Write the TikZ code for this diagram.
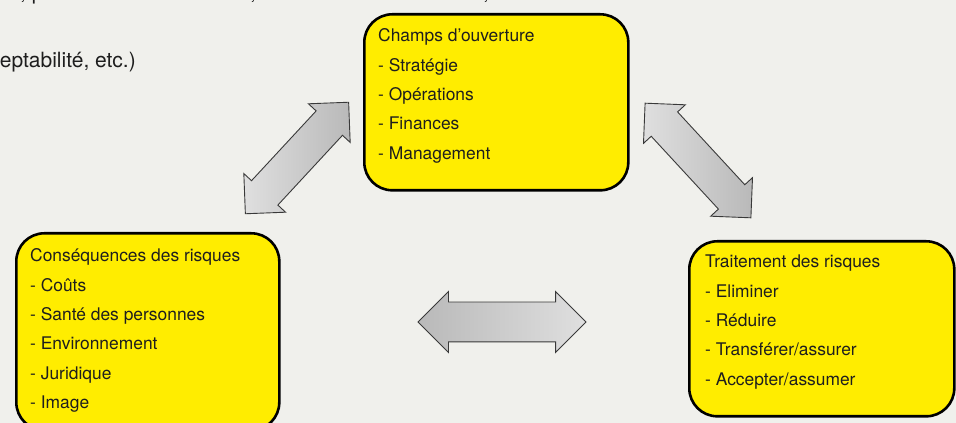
\documentclass[tikz,border=0pt]{standalone}
\usepackage{fontspec}
\setmainfont{TeX Gyre Heros}
\usetikzlibrary{positioning,shapes.arrows}
\definecolor{bgcol}{RGB}{240,240,236}
\definecolor{boxyellow}{RGB}{255,237,0}
\definecolor{txtcol}{RGB}{30,30,30}

\begin{document}
\begin{tikzpicture}[x=1pt,y=1pt,node distance=29.3pt,on grid,
  riskbox/.style={draw,line width=2.6pt,fill=boxyellow,rounded corners=28pt,anchor=north west,inner sep=0pt},
  itemline/.style={anchor=base west,inner sep=0pt,text=txtcol,font=\fontsize{17.4}{20}\selectfont},
  nextline/.style={below=of #1.base west,anchor=base west},
  dblarrow/.style={double arrow,draw=gray!45!black,line width=0.9pt,inner xsep=0pt,
    double arrow head extend=10.5pt,left color=gray!25,right color=gray!55}]
\useasboundingbox (0,0) rectangle (956,423);
\fill[bgcol] (0,0) rectangle (956,423);

% text cut off at the top left
\node[itemline,font=\fontsize{21}{24}\selectfont] (cut_a) at (20,423.8) {, p};
\node[itemline,font=\fontsize{21}{24}\selectfont] (cut_b) at (250,423.8) {,};
\node[itemline,font=\fontsize{21}{24}\selectfont] (cut_c) at (483,423.8) {,};
\node[itemline,anchor=base east,font=\fontsize{21}{24}\selectfont] (accept) at (136,355) {eptabilité, etc.)};

% boxes
\node[riskbox,minimum width=264pt,minimum height=176pt] (champs) at (363,410) {};
\node[riskbox,minimum width=263pt,minimum height=197pt] (csq) at (15,191) {};
\node[riskbox,minimum width=265pt,minimum height=175pt] (trait) at (688,183) {};

\node[itemline] (champs_0) at ([shift={(15pt,-29pt)}]champs.north west) {Champs d’ouverture};
\node[itemline,nextline=champs_0] (champs_1) {- Stratégie};
\node[itemline,nextline=champs_1] (champs_2) {- Opérations};
\node[itemline,nextline=champs_2] (champs_3) {- Finances};
\node[itemline,nextline=champs_3] (champs_4) {- Management};

\node[itemline] (csq_0) at ([shift={(15pt,-30pt)}]csq.north west) {Conséquences des risques};
\node[itemline,nextline=csq_0] (csq_1) {- Coûts};
\node[itemline,nextline=csq_1] (csq_2) {- Santé des personnes};
\node[itemline,nextline=csq_2] (csq_3) {- Environnement};
\node[itemline,nextline=csq_3] (csq_4) {- Juridique};
\node[itemline,nextline=csq_4] (csq_5) {- Image};

\node[itemline] (trait_0) at ([shift={(17pt,-28pt)}]trait.north west) {Traitement des risques};
\node[itemline,nextline=trait_0] (trait_1) {- Eliminer};
\node[itemline,nextline=trait_1] (trait_2) {- Réduire};
\node[itemline,nextline=trait_2] (trait_3) {- Transférer/assurer};
\node[itemline,nextline=trait_3] (trait_4) {- Accepter/assumer};

% block arrows
\node[dblarrow,minimum height=152pt,inner ysep=17.5pt,rotate=47.2] (arr_left) at (297,265) {};
\node[dblarrow,minimum height=156pt,inner ysep=17.5pt,rotate=-47.3] (arr_right) at (698,262.5) {};
\node[dblarrow,minimum height=168pt,inner ysep=19.5pt,left color=gray!55,right color=gray!25] (arr_bottom) at (502,101) {};
\end{tikzpicture}
\end{document}
